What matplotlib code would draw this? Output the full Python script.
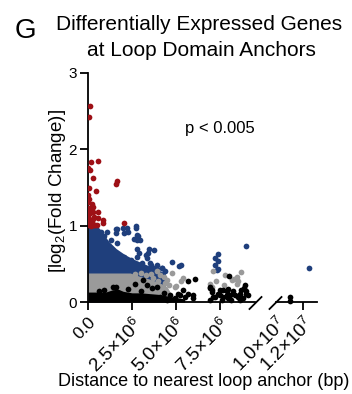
import matplotlib
matplotlib.use("Agg")
import matplotlib.pyplot as plt
import matplotlib.transforms as mtrans
import numpy as np

plt.rcParams['font.family'] = ['Liberation Sans', 'DejaVu Sans']
plt.rcParams['mathtext.fontset'] = 'custom'
plt.rcParams['mathtext.rm'] = 'Liberation Sans'
plt.rcParams['mathtext.it'] = 'Liberation Sans:italic'
plt.rcParams['mathtext.bf'] = 'Liberation Sans:bold'

# ---- data (distance in Mbp, log2 fold change) ----
red_x = [0.11, 0.07, 0.15, 0.59, 0.0, 0.11, 0.27, 1.63, 1.59, 0.04, 0.44, 0.0, 0.07, 0.02, 0.21,
         0.30, 0.06, 0.11, 0.30, 0.55, 0.0, 0.11, 0.02, 0.0, 0.34, 0.59, 0.30, 0.83, 0.11, 0.0,
         0.87, 2.05, 0.11, 0.25, 0.06, 0.40, 0.53, 0.17, 0.35]
red_y = [2.57, 2.43, 1.84, 1.85, 1.76, 1.73, 1.63, 1.59, 1.55, 1.50, 1.45, 1.40, 1.35, 1.31, 1.28,
         1.25, 1.23, 1.21, 1.18, 1.18, 1.18, 1.16, 1.14, 1.12, 1.12, 1.10, 1.09, 1.08, 1.07, 1.05,
         1.04, 1.04, 1.03, 1.03, 1.01, 1.01, 1.01, 1.00, 1.01]

blue_x = [1.10, 1.59, 2.00, 2.29, 2.73, 2.86, 2.95, 3.43, 3.52, 3.90, 4.19, 4.76, 5.17,
          1.66, 1.61, 2.23, 2.05, 2.71, 2.80, 2.61, 2.80, 2.80, 3.47, 3.75, 2.90, 3.28,
          1.66, 1.29, 0.91, 0.72, 1.76, 2.05, 2.42, 2.80, 3.08, 3.37, 3.56, 2.61, 3.18, 2.05,
          3.71, 3.90, 4.19, 4.38, 5.27, 7.22, 7.31, 7.22, 7.37, 7.37, 7.37, 8.96, 12.47]
blue_y = [0.92, 0.95, 0.97, 0.92, 0.97, 0.86, 0.81, 0.64, 0.51, 0.48, 0.44, 0.53, 0.47,
          0.95, 0.90, 0.97, 0.90, 0.99, 0.88, 0.83, 0.81, 0.70, 0.70, 0.68, 0.64, 0.62,
          0.77, 0.81, 0.86, 0.92, 0.57, 0.59, 0.55, 0.59, 0.51, 0.57, 0.48, 0.46, 0.42, 0.44,
          0.44, 0.43, 0.44, 0.40, 0.48, 0.48, 0.42, 0.57, 0.63, 0.54, 0.43, 0.73, 0.44]

gray_x = [2.70, 3.00, 3.30, 3.60, 3.90, 4.10, 4.30, 4.50, 3.70, 4.00, 4.40, 4.60, 4.76, 4.94,
          5.42, 5.30, 5.00, 7.03, 7.12, 7.30, 6.93, 7.78, 8.45, 8.73, 8.54, 7.75, 8.45, 8.30,
          8.20, 3.50, 3.80, 4.20]
gray_y = [0.37, 0.38, 0.36, 0.37, 0.40, 0.35, 0.33, 0.29, 0.32, 0.28, 0.25, 0.22, 0.38, 0.20,
          0.31, 0.27, 0.21, 0.20, 0.40, 0.27, 0.23, 0.36, 0.33, 0.39, 0.27, 0.22, 0.24, 0.30,
          0.29, 0.22, 0.18, 0.20]

black_x = [5.70, 6.08, 5.42, 5.23, 4.94, 5.99, 5.70, 5.50, 6.93, 7.03, 7.12, 7.50, 7.60, 4.66,
           4.47, 4.10, 8.03, 7.69, 7.88, 8.07, 8.16, 7.97, 8.26, 8.35, 8.54, 8.64, 8.73, 8.92,
           8.86, 9.00, 9.11, 8.80, 8.64, 7.50, 6.93, 7.97, 7.03, 6.93, 7.40, 7.70, 2.70, 3.14,
           3.33, 3.62, 3.90, 5.99, 7.22, 7.88, 8.64, 9.00, 11.04, 11.04,
           1.45, 1.60, 2.30, 0.60, 0.90, 3.00, 4.30, 5.10]
black_y = [0.27, 0.30, 0.16, 0.09, 0.05, 0.05, 0.11, 0.07, 0.18, 0.13, 0.07, 0.09, 0.03, 0.09,
           0.03, 0.07, 0.34, 0.16, 0.14, 0.09, 0.03, 0.05, 0.14, 0.09, 0.07, 0.11, 0.16, 0.22,
           0.18, 0.14, 0.09, 0.05, 0.03, 0.16, 0.19, 0.17, 0.16, 0.03, 0.11, 0.07, 0.24, 0.29,
           0.22, 0.18, 0.20, 0.09, 0.07, 0.09, 0.07, 0.11, 0.07, 0.01,
           0.19, 0.20, 0.17, 0.15, 0.16, 0.15, 0.12, 0.10]

# dense cores: upper envelope of the solid-looking mass (Mbp, log2FC)
blue_env_x = [0.0, 0.50, 0.70, 0.90, 1.20, 1.60, 2.10, 2.60, 3.20, 3.70, 4.20, 4.40]
blue_env_y = [1.00, 1.00, 0.95, 0.88, 0.79, 0.70, 0.62, 0.56, 0.50, 0.45, 0.40, 0.38]
gray_env_x = [0.0, 2.40, 2.90, 3.50, 4.00, 4.50, 4.70]
gray_env_y = [0.38, 0.38, 0.34, 0.30, 0.26, 0.20, 0.12]
black_env_x = [0.0, 1.00, 1.40, 1.70, 2.00, 2.50, 3.00, 3.50, 4.00, 4.50, 5.00, 5.50]
black_env_y = [0.13, 0.13, 0.16, 0.17, 0.14, 0.12, 0.12, 0.11, 0.10, 0.08, 0.06, 0.04]

y_ticks = [0, 1, 2, 3]
xticks_left = [0.0, 2.5e6, 5.0e6, 7.5e6]
xticklabels_left = ['0.0', r'$2.5{\times}10^{6}$', r'$5.0{\times}10^{6}$', r'$7.5{\times}10^{6}$']
xticks_right = [1.0e7, 1.2e7]
xticklabels_right = [r'$1.0{\times}10^{7}$', r'$1.2{\times}10^{7}$']

RED = '#9E1016'
BLUE = '#1F3F7C'
GRAY = '#9A9A9A'
BLACK = '#000000'
MB = 1e6

W, H = 352, 394
fig = plt.figure(figsize=(W / 100, H / 100), dpi=100)

def fx(px):
    return px / W

def fy(py):
    return 1 - py / H

y0, y3 = 302, 73
axL = fig.add_axes([fx(88), fy(y0), fx(255) - fx(88), fy(y3) - fy(y0)])
axR = fig.add_axes([fx(276), fy(y0), fx(316.5) - fx(276), fy(y3) - fy(y0)], sharey=axL)

lw = 1.3
ms = 17
for ax, xlim in ((axL, (0, 9.5e6)), (axR, (1.0e7, 1.3e7))):
    ax.set_facecolor('none')
    for s in ('top', 'right'):
        ax.spines[s].set_visible(False)
    ax.spines['bottom'].set_linewidth(lw)
    ax.spines['left'].set_linewidth(lw)
    ax.tick_params(width=lw, length=6, labelsize=11, pad=2, colors='black')
    ax.tick_params(axis='x', pad=3)

    clip = mtrans.TransformedBbox(mtrans.Bbox([[0, -0.03], [1, 1.05]]), ax.transAxes)
    for ex, ey, col in ((blue_env_x, blue_env_y, BLUE), (gray_env_x, gray_env_y, GRAY),
                        (black_env_x, black_env_y, BLACK)):
        p = ax.fill_between(np.array(ex) * MB, 0, ey, color=col, lw=0, zorder=2)
        p.set_clip_box(clip)
    for xs, ys, col in ((blue_x, blue_y, BLUE), (gray_x, gray_y, GRAY), (black_x, black_y, BLACK),
                        (red_x, red_y, RED)):
        sc = ax.scatter(np.array(xs) * MB, ys, s=ms, color=col, lw=0, zorder=3)
        sc.set_clip_box(clip)
    ax.set_xlim(*xlim)
    ax.set_ylim(0, 3)

axR.spines['left'].set_visible(False)
axR.tick_params(axis='y', left=False, labelleft=False)

axL.set_yticks(y_ticks)
axL.set_yticklabels([str(t) for t in y_ticks])
axL.set_xticks(xticks_left)
axL.set_xticklabels(xticklabels_left, rotation=45, ha='right', va='top', rotation_mode='anchor')
axR.set_xticks(xticks_right)
axR.set_xticklabels(xticklabels_right, rotation=45, ha='right', va='top', rotation_mode='anchor')
axR.xaxis.get_major_ticks()[0].tick1line.set_visible(False)
for ax in (axL, axR):
    for t in ax.get_xticklabels():
        t.set_fontsize(12.5 if t.get_text() == '0.0' else 13.5)

# axis break slashes
kw = dict(color='black', lw=lw, clip_on=False, transform=fig.transFigure)
axL.plot([fx(249.5), fx(261.5)], [fy(309), fy(297)], **kw)
axR.plot([fx(269.5), fx(281.5)], [fy(309), fy(297)], **kw)

fig.text(fx(15), fy(38), 'G', fontsize=20, ha='left', va='baseline')
fig.text(fx(199), fy(30), 'Differentially Expressed Genes', fontsize=15, ha='center', va='baseline')
fig.text(fx(201), fy(56.5), 'at Loop Domain Anchors', fontsize=15, ha='center', va='baseline')
fig.text(fx(185), fy(133), 'p < 0.005', fontsize=12, ha='left', va='baseline')
fig.text(fx(57), fy(191), '[log$_2$(Fold Change)]', fontsize=13.5, rotation=90, ha='center', va='center')
fig.text(fx(204), fy(386), 'Distance to nearest loop anchor (bp)', fontsize=13, ha='center', va='baseline')

fig.savefig('out.png', dpi=100)
